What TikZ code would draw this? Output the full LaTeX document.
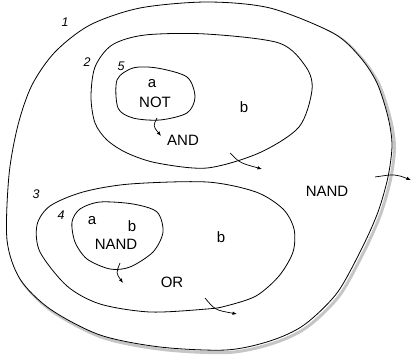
\documentclass[tikz,border=0pt]{standalone}
\usepackage{fontspec}
\setmainfont{Liberation Sans}
\usetikzlibrary{arrows.meta}
\begin{document}
\begin{tikzpicture}[x=1pt,y=-1pt,
  region/.style={line width=0.8pt,black},
  lbl/.style={inner sep=0pt,font=\fontsize{15}{17}\selectfont},
  num/.style={inner sep=0pt,font=\fontsize{12.5}{14}\selectfont\itshape},
  flow/.style={line width=0.7pt,-{Latex[length=4.5pt,width=3.5pt]}}]
\useasboundingbox (0,0) rectangle (412,358);
\def\outerpts{(207,2) (270,8) (333,33) (360,57) (377,83) (388,117) (392,145) (388,177) (378,212) (362,248) (337,293) (304,325) (270,341) (226,350) (160,347) (100,335) (50,309) (20,279) (7,240) (9,175) (18,125) (32,85) (55,52) (90,25) (140,8)}
% shadow of outer region 1
\draw[gray!45,line width=3pt] plot[smooth cycle] coordinates {(209.5,4.5) (272.5,10.5) (335.5,35.5) (362.5,59.5) (379.5,85.5) (390.5,119.5) (394.5,147.5) (390.5,179.5) (380.5,214.5) (364.5,250.5) (339.5,295.5) (306.5,327.5) (272.5,343.5) (228.5,352.5) (162.5,349.5) (102.5,337.5) (52.5,311.5) (22.5,281.5) (9.5,242.5) (11.5,177.5) (20.5,127.5) (34.5,87.5) (57.5,54.5) (92.5,27.5) (142.5,10.5)};
% outer region 1
\draw[region,fill=white] plot[smooth cycle] coordinates {\outerpts};
% region 2
\draw[region] plot[smooth cycle] coordinates {(206,34) (279,43) (306,67) (312,90) (299,127) (259,153) (207,168) (157,163) (127,153) (107,140) (95,123) (91,97) (95,67) (112,45) (145,35)};
% region 5
\draw[region] plot[smooth cycle] coordinates {(117,80) (133,68) (157,68) (187,77) (195,97) (187,113) (160,120) (133,118) (118,108)};
% region 3
\draw[region] plot[smooth cycle] coordinates {(207,182) (256,192) (283,209) (294,229) (293,252) (279,276) (256,296) (226,306) (207,309) (150,312) (100,304) (67,286) (40,252) (37,225) (50,206) (83,192) (130,184)};
% region 4
\draw[region] plot[smooth cycle] coordinates {(72,222) (80,209) (100,202) (133,204) (157,212) (163,232) (153,252) (130,267) (110,269) (87,259) (75,242)};
% labels
\node[num] (n1) at (65,22) {1};
\node[num] (n2) at (87,62) {2};
\node[num] (n5) at (121,66) {5};
\node[num] (n3) at (36,194) {3};
\node[num] (n4) at (61,215) {4};
\node[lbl] (a1) at (152,84) {a};
\node[lbl] (not) at (155,102) {NOT};
\node[lbl] (and) at (183,140) {AND};
\node[lbl] (b1) at (244,107) {b};
\node[lbl] (nand1) at (327,191) {NAND};
\node[lbl] (a2) at (92,221) {a};
\node[lbl] (b2) at (132,226) {b};
\node[lbl] (nand2) at (116,244) {NAND};
\node[lbl] (b3) at (221,237) {b};
\node[lbl] (or) at (172,282) {OR};
% arrows
\coordinate (s1) at (157,118); \coordinate (e1) at (161,136);
\draw[flow] (s1) .. controls (153,126) .. (e1);
\coordinate (s2) at (230,153); \coordinate (e2) at (262,169);
\draw[flow] (s2) .. controls (240,163) .. (e2);
\coordinate (s3) at (375,177); \coordinate (e3) at (411,180);
\draw[flow] (s3) .. controls (395,174) .. (e3);
\coordinate (s4) at (120,263); \coordinate (e4) at (123,283);
\draw[flow] (s4) .. controls (116,273) .. (e4);
\coordinate (s5) at (205,298); \coordinate (e5) at (237,314);
\draw[flow] (s5) .. controls (215,310) .. (e5);
\end{tikzpicture}
\end{document}
